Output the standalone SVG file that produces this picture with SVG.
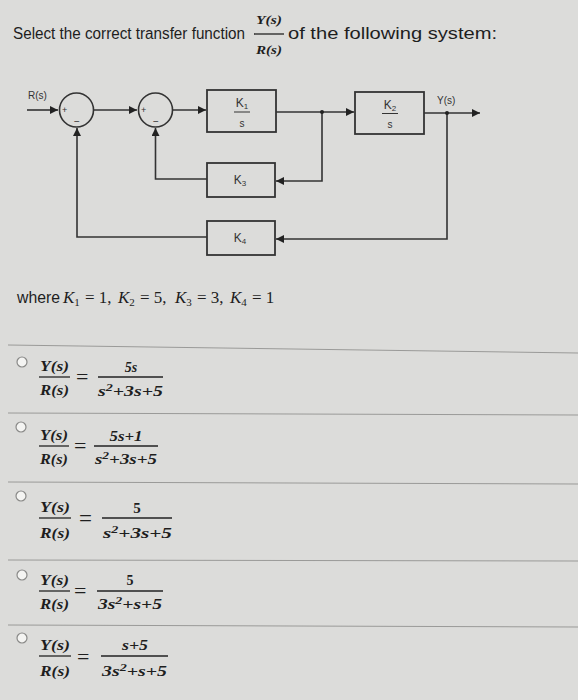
<svg xmlns="http://www.w3.org/2000/svg" width="578" height="700" viewBox="0 0 578 700">
<defs>
<marker id="arr" viewBox="0 0 10 10" refX="10" refY="5" markerWidth="8" markerHeight="8" markerUnits="userSpaceOnUse" orient="auto">
<path d="M0,0 L10,5 L0,10 z" fill="#222"/>
</marker>
<style>
.t{font-family:"Liberation Sans",Arial,sans-serif;fill:#1e1e1e}
.m{font-family:"Liberation Serif","DejaVu Serif",serif;font-style:italic;fill:#1e1e1e}
.mn{font-family:"Liberation Serif","DejaVu Serif",serif;fill:#1e1e1e}
.b{font-weight:bold}
.d{font-family:"Liberation Sans",Arial,sans-serif;fill:#333}
.w{stroke:#333;stroke-width:1.6;fill:none}
.blk{fill:#dcdcda;stroke:#333;stroke-width:1.8}
.sum{fill:#dcdcda;stroke:#333;stroke-width:1.6}
.bar{stroke:#222;stroke-width:1.3}
.sep{stroke:#9a9a98;stroke-width:1}
.rad{fill:#f4f4f2;stroke:#8a8a88;stroke-width:1.2}
</style>
</defs>
<rect width="578" height="700" fill="#dcdcda"/>

<!-- Title -->
<g id="title">
<text class="t" x="13" y="39" font-size="16" textLength="232" lengthAdjust="spacingAndGlyphs">Select the correct transfer function</text>
<text class="m b" x="256" y="24" font-size="13" textLength="26" lengthAdjust="spacingAndGlyphs">Y(s)</text>
<line class="bar" x1="254" y1="34" x2="284" y2="34"/>
<text class="m b" x="256" y="54" font-size="13" textLength="26" lengthAdjust="spacingAndGlyphs">R(s)</text>
<text class="t" x="288" y="39" font-size="16" textLength="209" lengthAdjust="spacingAndGlyphs">of the following system:</text>
</g>

<!-- Connectors -->
<g id="connectors">
<path class="w" d="M27,110 L58,110" marker-end="url(#arr)"/>
<path class="w" d="M94,110 L137,110" marker-end="url(#arr)"/>
<path class="w" d="M173,110 L206,110" marker-end="url(#arr)"/>
<path class="w" d="M276,112 L354,112" marker-end="url(#arr)"/>
<path class="w" d="M424,113 L480,113" marker-end="url(#arr)"/>
<path class="w" d="M322,112 L322,181 L276,181" marker-end="url(#arr)"/>
<path class="w" d="M447,113 L447,239 L276,239" marker-end="url(#arr)"/>
<path class="w" d="M207,179 L155.5,179 L155.5,128" marker-end="url(#arr)"/>
<path class="w" d="M207,237 L77,237 L77,128" marker-end="url(#arr)"/>
<circle cx="322" cy="112" r="2" fill="#222"/>
<circle cx="447" cy="113" r="2" fill="#222"/>
</g>

<text class="d" x="28" y="99" font-size="10">R(s)</text>
<text class="d" x="437" y="104" font-size="10">Y(s)</text>

<g id="sum1">
<circle class="sum" cx="76.5" cy="110" r="17"/>
<text class="d" x="62" y="113" font-size="9">+</text>
<text class="d" x="74" y="125" font-size="10">−</text>
</g>
<g id="sum2">
<circle class="sum" cx="155.5" cy="110" r="17"/>
<text class="d" x="141" y="113" font-size="9">+</text>
<text class="d" x="153" y="125" font-size="10">−</text>
</g>

<g id="K1">
<rect class="blk" x="207" y="90" width="69" height="42"/>
<text class="d" x="242" y="107" font-size="12" text-anchor="middle">K<tspan font-size="8" dy="2">1</tspan></text>
<line x1="234" y1="112" x2="250" y2="112" stroke="#333" stroke-width="1"/>
<text class="d" x="242" y="127" font-size="10" text-anchor="middle">s</text>
</g>
<g id="K2">
<rect class="blk" x="355" y="92" width="69" height="42"/>
<text class="d" x="390" y="109" font-size="12" text-anchor="middle">K<tspan font-size="8" dy="2">2</tspan></text>
<line x1="382" y1="113.5" x2="398" y2="113.5" stroke="#333" stroke-width="1"/>
<text class="d" x="390" y="128" font-size="10" text-anchor="middle">s</text>
</g>
<g id="K3">
<rect class="blk" x="207" y="163" width="68" height="34"/>
<text class="d" x="240" y="184" font-size="12" text-anchor="middle">K<tspan font-size="8" dy="2">3</tspan></text>
</g>
<g id="K4">
<rect class="blk" x="207" y="221" width="68" height="34"/>
<text class="d" x="240" y="242" font-size="12" text-anchor="middle">K<tspan font-size="8" dy="2">4</tspan></text>
</g>

<!-- where line -->
<g id="where">
<text class="t" x="17" y="303" font-size="16" textLength="43" lengthAdjust="spacingAndGlyphs">where</text>
<text font-size="17">
<tspan class="m" x="63" y="303">K</tspan><tspan class="mn" font-size="11" dy="3">1</tspan>
<tspan class="mn" x="85" y="303">= 1,</tspan>
<tspan class="m" x="118" y="303">K</tspan><tspan class="mn" font-size="11" dy="3">2</tspan>
<tspan class="mn" x="140" y="303">= 5,</tspan>
<tspan class="m" x="175" y="303">K</tspan><tspan class="mn" font-size="11" dy="3">3</tspan>
<tspan class="mn" x="197" y="303">= 3,</tspan>
<tspan class="m" x="230" y="303">K</tspan><tspan class="mn" font-size="11" dy="3">4</tspan>
<tspan class="mn" x="252" y="303">= 1</tspan>
</text>
</g>

<!-- separators -->
<line class="sep" x1="8" y1="345" x2="578" y2="353"/>
<line class="sep" x1="8" y1="413" x2="578" y2="415"/>
<line class="sep" x1="8" y1="482" x2="578" y2="484"/>
<line class="sep" x1="8" y1="560" x2="578" y2="561"/>
<line class="sep" x1="8" y1="625" x2="578" y2="627"/>

<!-- Option 1 -->
<g id="opt1">
<circle class="rad" cx="22" cy="362" r="5"/>
<text class="m b" x="40" y="371" font-size="14" textLength="29" lengthAdjust="spacingAndGlyphs">Y(s)</text>
<line class="bar" x1="39" y1="377" x2="70" y2="377"/>
<text class="m b" x="40" y="395" font-size="14" textLength="29" lengthAdjust="spacingAndGlyphs">R(s)</text>
<text class="mn" x="76" y="384" font-size="22">=</text>
<text class="m b" x="131" y="372" font-size="14" text-anchor="middle">5s</text>
<line class="bar" x1="98" y1="377" x2="163" y2="377"/>
<text class="m b" x="98" y="396" font-size="14" textLength="65" lengthAdjust="spacingAndGlyphs">s<tspan font-size="10" dy="-5">2</tspan><tspan dy="5">+3s+5</tspan></text>
</g>

<!-- Option 2 -->
<g id="opt2">
<circle class="rad" cx="21" cy="427" r="5"/>
<text class="m b" x="40" y="440" font-size="14" textLength="28" lengthAdjust="spacingAndGlyphs">Y(s)</text>
<line class="bar" x1="39" y1="446" x2="69" y2="446"/>
<text class="m b" x="40" y="464" font-size="14" textLength="28" lengthAdjust="spacingAndGlyphs">R(s)</text>
<text class="mn" x="74" y="453" font-size="22">=</text>
<text class="m b" x="126" y="441" font-size="14" textLength="33" lengthAdjust="spacingAndGlyphs" text-anchor="middle">5s+1</text>
<line class="bar" x1="94" y1="446" x2="158" y2="446"/>
<text class="m b" x="95" y="464" font-size="14" textLength="62" lengthAdjust="spacingAndGlyphs">s<tspan font-size="10" dy="-5">2</tspan><tspan dy="5">+3s+5</tspan></text>
</g>

<!-- Option 3 -->
<g id="opt3">
<circle class="rad" cx="21" cy="496" r="5"/>
<text class="m b" x="40" y="512" font-size="15" textLength="30" lengthAdjust="spacingAndGlyphs">Y(s)</text>
<line class="bar" x1="39" y1="518" x2="71" y2="518"/>
<text class="m b" x="40" y="538" font-size="15" textLength="30" lengthAdjust="spacingAndGlyphs">R(s)</text>
<text class="mn" x="79" y="526" font-size="23">=</text>
<text class="mn b" x="137" y="513" font-size="15" text-anchor="middle">5</text>
<line class="bar" x1="102" y1="518" x2="172" y2="518"/>
<text class="m b" x="103" y="538" font-size="15" textLength="69" lengthAdjust="spacingAndGlyphs">s<tspan font-size="10" dy="-5">2</tspan><tspan dy="5">+3s+5</tspan></text>
</g>

<!-- Option 4 -->
<g id="opt4">
<circle class="rad" cx="22" cy="575" r="5"/>
<text class="m b" x="40" y="585" font-size="14" textLength="29" lengthAdjust="spacingAndGlyphs">Y(s)</text>
<line class="bar" x1="39" y1="591" x2="70" y2="591"/>
<text class="m b" x="40" y="609" font-size="14" textLength="29" lengthAdjust="spacingAndGlyphs">R(s)</text>
<text class="mn" x="74" y="598" font-size="22">=</text>
<text class="mn b" x="130" y="585" font-size="14" text-anchor="middle">5</text>
<line class="bar" x1="97" y1="591" x2="163" y2="591"/>
<text class="m b" x="98" y="609" font-size="14" textLength="64" lengthAdjust="spacingAndGlyphs">3s<tspan font-size="10" dy="-5">2</tspan><tspan dy="5">+s+5</tspan></text>
</g>

<!-- Option 5 -->
<g id="opt5">
<circle class="rad" cx="22" cy="638" r="5"/>
<text class="m b" x="40" y="650" font-size="14" textLength="30" lengthAdjust="spacingAndGlyphs">Y(s)</text>
<line class="bar" x1="39" y1="656" x2="71" y2="656"/>
<text class="m b" x="40" y="676" font-size="14" textLength="30" lengthAdjust="spacingAndGlyphs">R(s)</text>
<text class="mn" x="77" y="664" font-size="22">=</text>
<text class="m b" x="135" y="650" font-size="14" textLength="26" lengthAdjust="spacingAndGlyphs" text-anchor="middle">s+5</text>
<line class="bar" x1="101" y1="656" x2="168" y2="656"/>
<text class="m b" x="102" y="676" font-size="14" textLength="65" lengthAdjust="spacingAndGlyphs">3s<tspan font-size="10" dy="-5">2</tspan><tspan dy="5">+s+5</tspan></text>
</g>
</svg>
